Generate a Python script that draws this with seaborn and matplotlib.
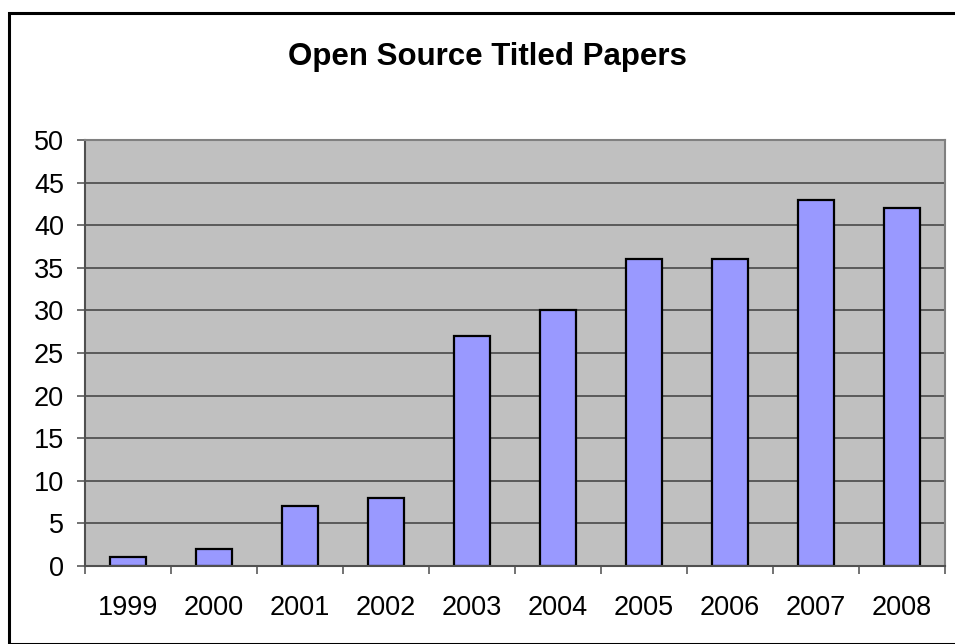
import matplotlib
matplotlib.use("Agg")
import matplotlib.pyplot as plt
import seaborn as sns
import pandas as pd
from matplotlib.patches import Rectangle
from matplotlib.ticker import FixedLocator

years = ["1999", "2000", "2001", "2002", "2003", "2004", "2005", "2006", "2007", "2008"]
papers = [1, 2, 7, 8, 27, 30, 36, 36, 43, 42]
yticks = [0, 5, 10, 15, 20, 25, 30, 35, 40, 45, 50]
title = "Open Source Titled Papers"

sns.set_theme(style="white")
plt.rcParams["font.family"] = ["Liberation Sans", "DejaVu Sans"]

df = pd.DataFrame({"year": years, "papers": papers})

W, H = 955, 644
fig = plt.figure(figsize=(W / 100, H / 100), dpi=100)
fig.patch.set_facecolor("white")

L, R, T, B = 85, 945, 140, 566
ax = fig.add_axes([L / W, (H - B) / H, (R - L) / W, (B - T) / H])
ax.set_facecolor("#C0C0C0")

sns.barplot(data=df, x="year", y="papers", color="#9999FF", width=0.41,
            edgecolor="black", linewidth=1.6, saturation=1, ax=ax, zorder=3)

ax.set_xlim(-0.5, len(years) - 0.5)
ax.set_ylim(0, 50)
ax.set_yticks(yticks)
ax.set_yticklabels([str(v) for v in yticks])
for v in yticks[1:]:
    ax.axhline(v, color="#5A5A5A", linewidth=1.4, zorder=1)

ax.set_xlabel("")
ax.set_ylabel("")
ax.tick_params(axis="y", which="major", direction="out", length=6, width=1.2,
               color="#5A5A5A", labelsize=19.5, pad=9, left=True)
ax.tick_params(axis="x", which="major", length=0, labelsize=19.5, pad=21)
ax.xaxis.set_minor_locator(FixedLocator([i + 0.5 for i in range(-1, len(years))]))
ax.tick_params(axis="x", which="minor", direction="out", length=6, width=1.2,
               color="#5A5A5A", bottom=True)
for lab in ax.get_xticklabels() + ax.get_yticklabels():
    lab.set_color("black")

for s in ["top", "right"]:
    ax.spines[s].set_color("#808080")
    ax.spines[s].set_linewidth(1.5)
ax.spines["left"].set_color("#505050")
ax.spines["left"].set_linewidth(1.5)
ax.spines["bottom"].set_color("#505050")
ax.spines["bottom"].set_linewidth(1.5)
for s in ax.spines.values():
    s.set_visible(True)
    s.set_zorder(4)

fig.text(487 / W, 1 - 57 / H, title, ha="center", va="center",
         fontsize=22.5, fontweight="bold", color="black")

fig.patches.append(Rectangle((8.5 / W, 0), 2.0, 1 - 12.5 / H, transform=fig.transFigure,
                             fill=False, edgecolor="black", linewidth=2.2, zorder=10))

fig.savefig("out.png", dpi=100, facecolor="white")
